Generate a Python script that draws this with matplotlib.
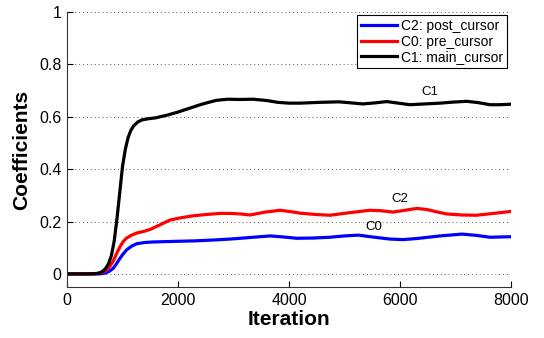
import matplotlib
matplotlib.use("Agg")
import matplotlib.pyplot as plt

# ---- data ----
iter_c1 = [0, 400, 550, 600, 650, 700, 750, 800, 850, 900, 950, 1000, 1050, 1100, 1150, 1200, 1275, 1350, 1450,
           1600, 1800, 2000, 2200, 2400, 2550, 2700, 2900, 3100, 3350, 3600, 3800, 4000, 4200, 4550, 4900,
           5120, 5330, 5550, 5760, 5970, 6180, 6450, 6720, 6960, 7200, 7410, 7620, 7800, 8000]
main_cursor = [0, 0, 0.002, 0.005, 0.011, 0.022, 0.04, 0.07, 0.125, 0.21, 0.31, 0.41, 0.475, 0.52, 0.548, 0.565,
               0.58, 0.588, 0.592, 0.596, 0.606, 0.618, 0.632, 0.646, 0.655, 0.663, 0.667, 0.666, 0.667, 0.662,
               0.655, 0.652, 0.652, 0.655, 0.657, 0.653, 0.649, 0.653, 0.658, 0.652, 0.646, 0.649, 0.652, 0.656,
               0.659, 0.654, 0.646, 0.646, 0.648]

iter_c0 = [0, 500, 600, 660, 715, 775, 835, 895, 955, 1015, 1075, 1165, 1255, 1380, 1500, 1680, 1860, 2070,
           2280, 2520, 2760, 2940, 3120, 3300, 3570, 3840, 4020, 4200, 4470, 4740, 5100, 5460, 5670, 5875,
           6090, 6300, 6480, 6660, 6840, 7110, 7380, 7680, 7980]
pre_cursor = [0, 0, 0.003, 0.008, 0.016, 0.03, 0.05, 0.078, 0.104, 0.124, 0.137, 0.148, 0.156, 0.162, 0.17,
              0.188, 0.206, 0.215, 0.222, 0.227, 0.231, 0.231, 0.229, 0.225, 0.236, 0.243, 0.238, 0.232,
              0.227, 0.224, 0.234, 0.243, 0.241, 0.236, 0.243, 0.25, 0.246, 0.237, 0.229, 0.225, 0.224,
              0.231, 0.238]

iter_c2 = [0, 600, 700, 770, 835, 895, 955, 1015, 1075, 1165, 1255, 1400, 1560, 1900, 2280, 2600, 2940,
           3300, 3660, 3900, 4140, 4440, 4740, 5000, 5250, 5540, 5820, 6060, 6300, 6720, 7120, 7380, 7620, 8000]
post_cursor = [0, 0, 0.004, 0.011, 0.022, 0.04, 0.06, 0.077, 0.092, 0.106, 0.115, 0.12, 0.122, 0.124, 0.126,
               0.129, 0.133, 0.139, 0.145, 0.141, 0.136, 0.137, 0.14, 0.145, 0.148, 0.14, 0.133, 0.131, 0.135,
               0.145, 0.152, 0.147, 0.14, 0.142]

legend_labels = ["C2: post_cursor", "C0: pre_cursor", "C1: main_cursor"]
x_ticks = [0, 2000, 4000, 6000, 8000]
y_ticks = [0, 0.2, 0.4, 0.6, 0.8, 1]
y_tick_labels = ["0", "0.2", "0.4", "0.6", "0.8", "1"]

plt.rcParams['font.family'] = ['Liberation Sans', 'DejaVu Sans']

fig = plt.figure(figsize=(5.44, 3.38), dpi=100)
ax = fig.add_axes([67/544, 51/338, 444/544, 275/338])

ax.plot(iter_c2, post_cursor, color='#0000ff', lw=2.3, label=legend_labels[0])
ax.plot(iter_c0, pre_cursor, color='#ff0000', lw=2.3, label=legend_labels[1])
ax.plot(iter_c1, main_cursor, color='black', lw=2.3, label=legend_labels[2])

ax.set_xlim(0, 8000)
ax.set_ylim(-0.05, 1)
ax.set_xticks(x_ticks)
ax.set_xticklabels([str(v) for v in x_ticks])
ax.set_yticks(y_ticks)
ax.set_yticklabels(y_tick_labels)
ax.tick_params(direction='in', length=4, labelsize=11.5, width=0.8, pad=4)
ax.grid(axis='y', linestyle=(0, (1, 3)), color='#555555', linewidth=0.7)
ax.spines['top'].set_visible(False)
ax.spines['right'].set_visible(False)
for s in ('left', 'bottom'):
    ax.spines[s].set_linewidth(0.8)
    ax.spines[s].set_color('#333333')

ax.set_xlabel('Iteration', fontsize=15, fontweight='bold', labelpad=2)
ax.set_ylabel('Coefficients', fontsize=15, fontweight='bold', labelpad=6)

ax.text(6540, 0.695, 'C1', fontsize=9.5, ha='center', va='center')
ax.text(6000, 0.287, 'C2', fontsize=9.5, ha='center', va='center')
ax.text(5530, 0.18, 'C0', fontsize=9.5, ha='center', va='center')

leg = ax.legend(loc='upper right', bbox_to_anchor=(0.991, 0.989), fontsize=10, frameon=True, fancybox=False,
                edgecolor='black', framealpha=1, handlelength=2.6, handletextpad=0.25,
                borderpad=0.3, labelspacing=0.1, borderaxespad=0)
leg.get_frame().set_linewidth(0.8)

fig.savefig('out.png', dpi=100)
